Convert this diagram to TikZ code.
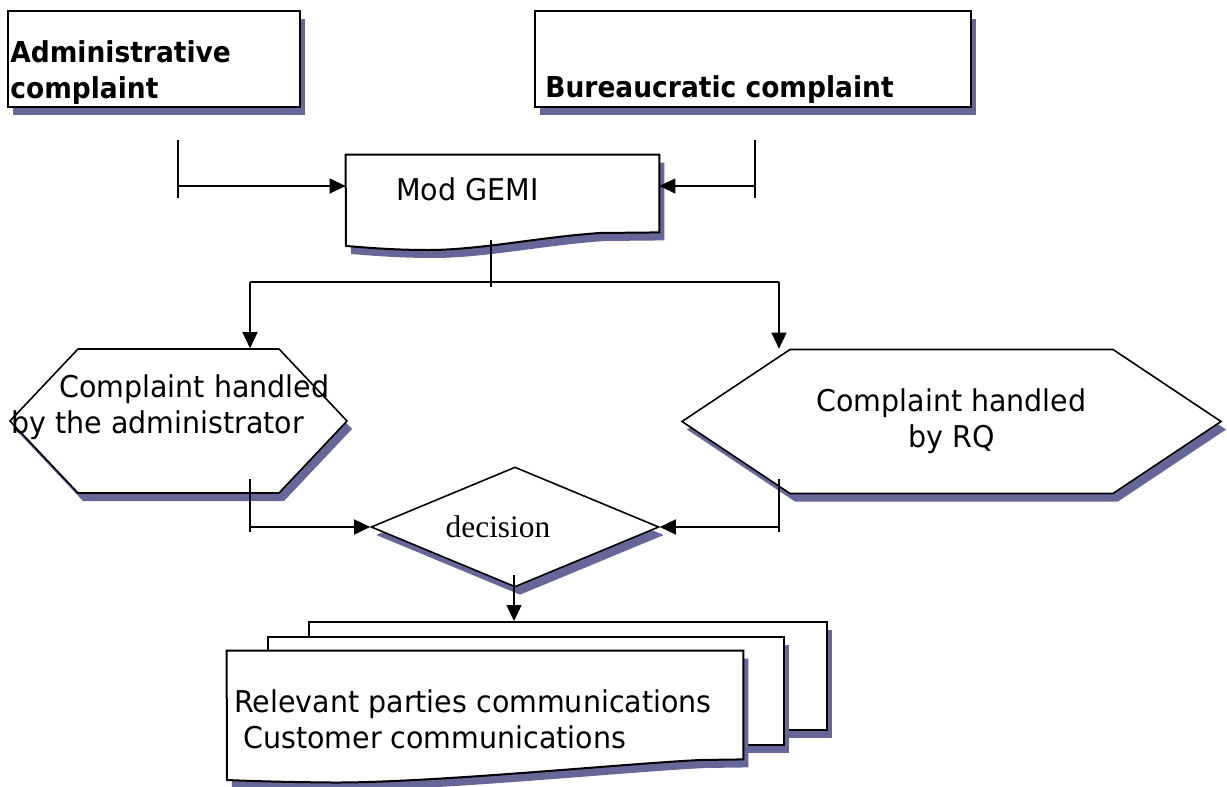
\documentclass[tikz,border=0pt]{standalone}
\usepackage{fontspec}
\setmainfont{DejaVu Sans}[FakeStretch=0.95, BoldFeatures={FakeStretch=0.92}]
\newfontfamily\decisionfont{Liberation Serif}
\usetikzlibrary{shapes.geometric,shapes.symbols,shadows,arrows.meta}
\definecolor{shadowblue}{RGB}{102,102,153}
\tikzset{
        dropped/.style={drop shadow={shadow xshift=2.5pt, shadow yshift=-4pt, fill=shadowblue, opacity=1}},
        box/.style={rectangle, draw=black, line width=1pt, fill=white, inner sep=0pt, dropped},
        sheet/.style={rectangle, inner sep=0pt},
        doc/.style={draw=black, line width=1pt, fill=white, dropped},
        hexa/.style={signal, signal to=east and west, draw=black, line width=0.8pt, fill=white, inner sep=0pt, dropped},
        decide/.style={diamond, aspect=2.4, draw=black, line width=0.8pt, fill=white, inner sep=0pt, dropped, font=\decisionfont\fontsize{15.7}{18}\selectfont},
        heading/.style={inner sep=0pt, align=left, font=\bfseries\fontsize{14.4}{18}\selectfont},
        plain/.style={inner sep=0pt, align=left, font=\fontsize{15}{18}\selectfont},
        flow/.style={line width=0.7pt, -{Triangle[length=8pt, width=7.5pt]}},
        tick/.style={line width=0.7pt}
          }
\begin{document}
\begin{tikzpicture}[x=0.5pt, y=-0.5pt]
        \useasboundingbox (0,0) rectangle (1227,787);
        \node[box, minimum width=146pt, minimum height=48pt] (admin) at (154,59) {};
        \node[box, minimum width=218pt, minimum height=48pt] (bureau) at (753,59) {};
        \node[heading, anchor=base west] (admintxt) at (10,98) {Administrative\\complaint};
        \node[heading, anchor=base west] (bureautxt) at (545,97) {Bureaucratic complaint};

        \node[sheet, minimum width=156.5pt, minimum height=38.5pt] (gemi) at (502.5,193.5) {};
        \draw[doc] (gemi.north west) -- (gemi.north east) -- (gemi.south east) -- (600,233)
          .. controls (540,237) and (480,250) .. (428,250)
          .. controls (390,250) and (360,247) .. (346,246) -- cycle;
        \node[plain, anchor=base west] (gemitxt) at (396,200) {Mod GEMI};

        \coordinate (a1) at (178,140);
        \coordinate (a2) at (178,198);
        \coordinate (a3) at (178,186);
        \coordinate (b1) at (755,140);
        \coordinate (b2) at (755,198);
        \coordinate (b3) at (755,186);
        \draw[tick] (a1) -- (a2);
        \draw[flow] (a3) -- (a3 -| gemi.west);
        \draw[tick] (b1) -- (b2);
        \draw[flow] (b3) -- (b3 -| gemi.east);

        \node[hexa, minimum width=168.5pt, minimum height=72pt, signal pointer angle=93.3] (byadmin) at (178.5,421) {};
        \node[plain, anchor=base west] (byadmintxt) at (11,433) {\hspace*{24pt}Complaint handled\\by the administrator};
        \node[hexa, plain, align=center, minimum width=269.5pt, minimum height=72pt, signal pointer angle=67.4] (byrq) at (951.5,421.5) {Complaint handled\\by RQ};

        \coordinate (g1) at (491,240);
        \coordinate (g2) at (491,287);
        \coordinate (sl) at (250,282);
        \coordinate (sr) at (779,282);
        \draw[tick] (g1) -- (g2);
        \draw[tick] (sl) -- (sr);
        \draw[flow] (sl) -- (sl |- byadmin.north);
        \draw[flow] (sr) -- (sr |- byrq.north);

        \node[decide, minimum width=144pt, minimum height=60pt] (decision) at (515,527) {decision\hspace*{17pt}};

        \coordinate (c1) at (250,479);
        \coordinate (c2) at (250,532);
        \coordinate (c3) at (250,527);
        \coordinate (e1) at (779,479);
        \coordinate (e2) at (779,532);
        \coordinate (e3) at (779,527);
        \draw[tick] (c1) -- (c2);
        \draw[flow] (c3) -- (decision.west);
        \draw[tick] (e1) -- (e2);
        \draw[flow] (e3) -- (decision.east);

        \node[box, minimum width=259pt, minimum height=54pt] (backdoc) at (567.5,676) {};
        \node[box, minimum width=258pt, minimum height=54pt] (middoc) at (526,691) {};
        \node[sheet, minimum width=258pt, minimum height=54pt] (frontdoc) at (485,705) {};
        \draw[doc] (frontdoc.north west) -- (frontdoc.north east) -- (frontdoc.south east) -- (700,760)
          .. controls (620,764) and (430,783) .. (332,782.5)
          .. controls (280,782) and (250,781) .. (227,780) -- cycle;
        \node[plain, anchor=base west] (commtxt) at (234,748) {Relevant parties communications\\\hspace*{4.5pt}Customer communications};

        \coordinate (d1) at (514,575);
        \draw[flow] (d1) -- (d1 |- backdoc.north);
\end{tikzpicture}
\end{document}
